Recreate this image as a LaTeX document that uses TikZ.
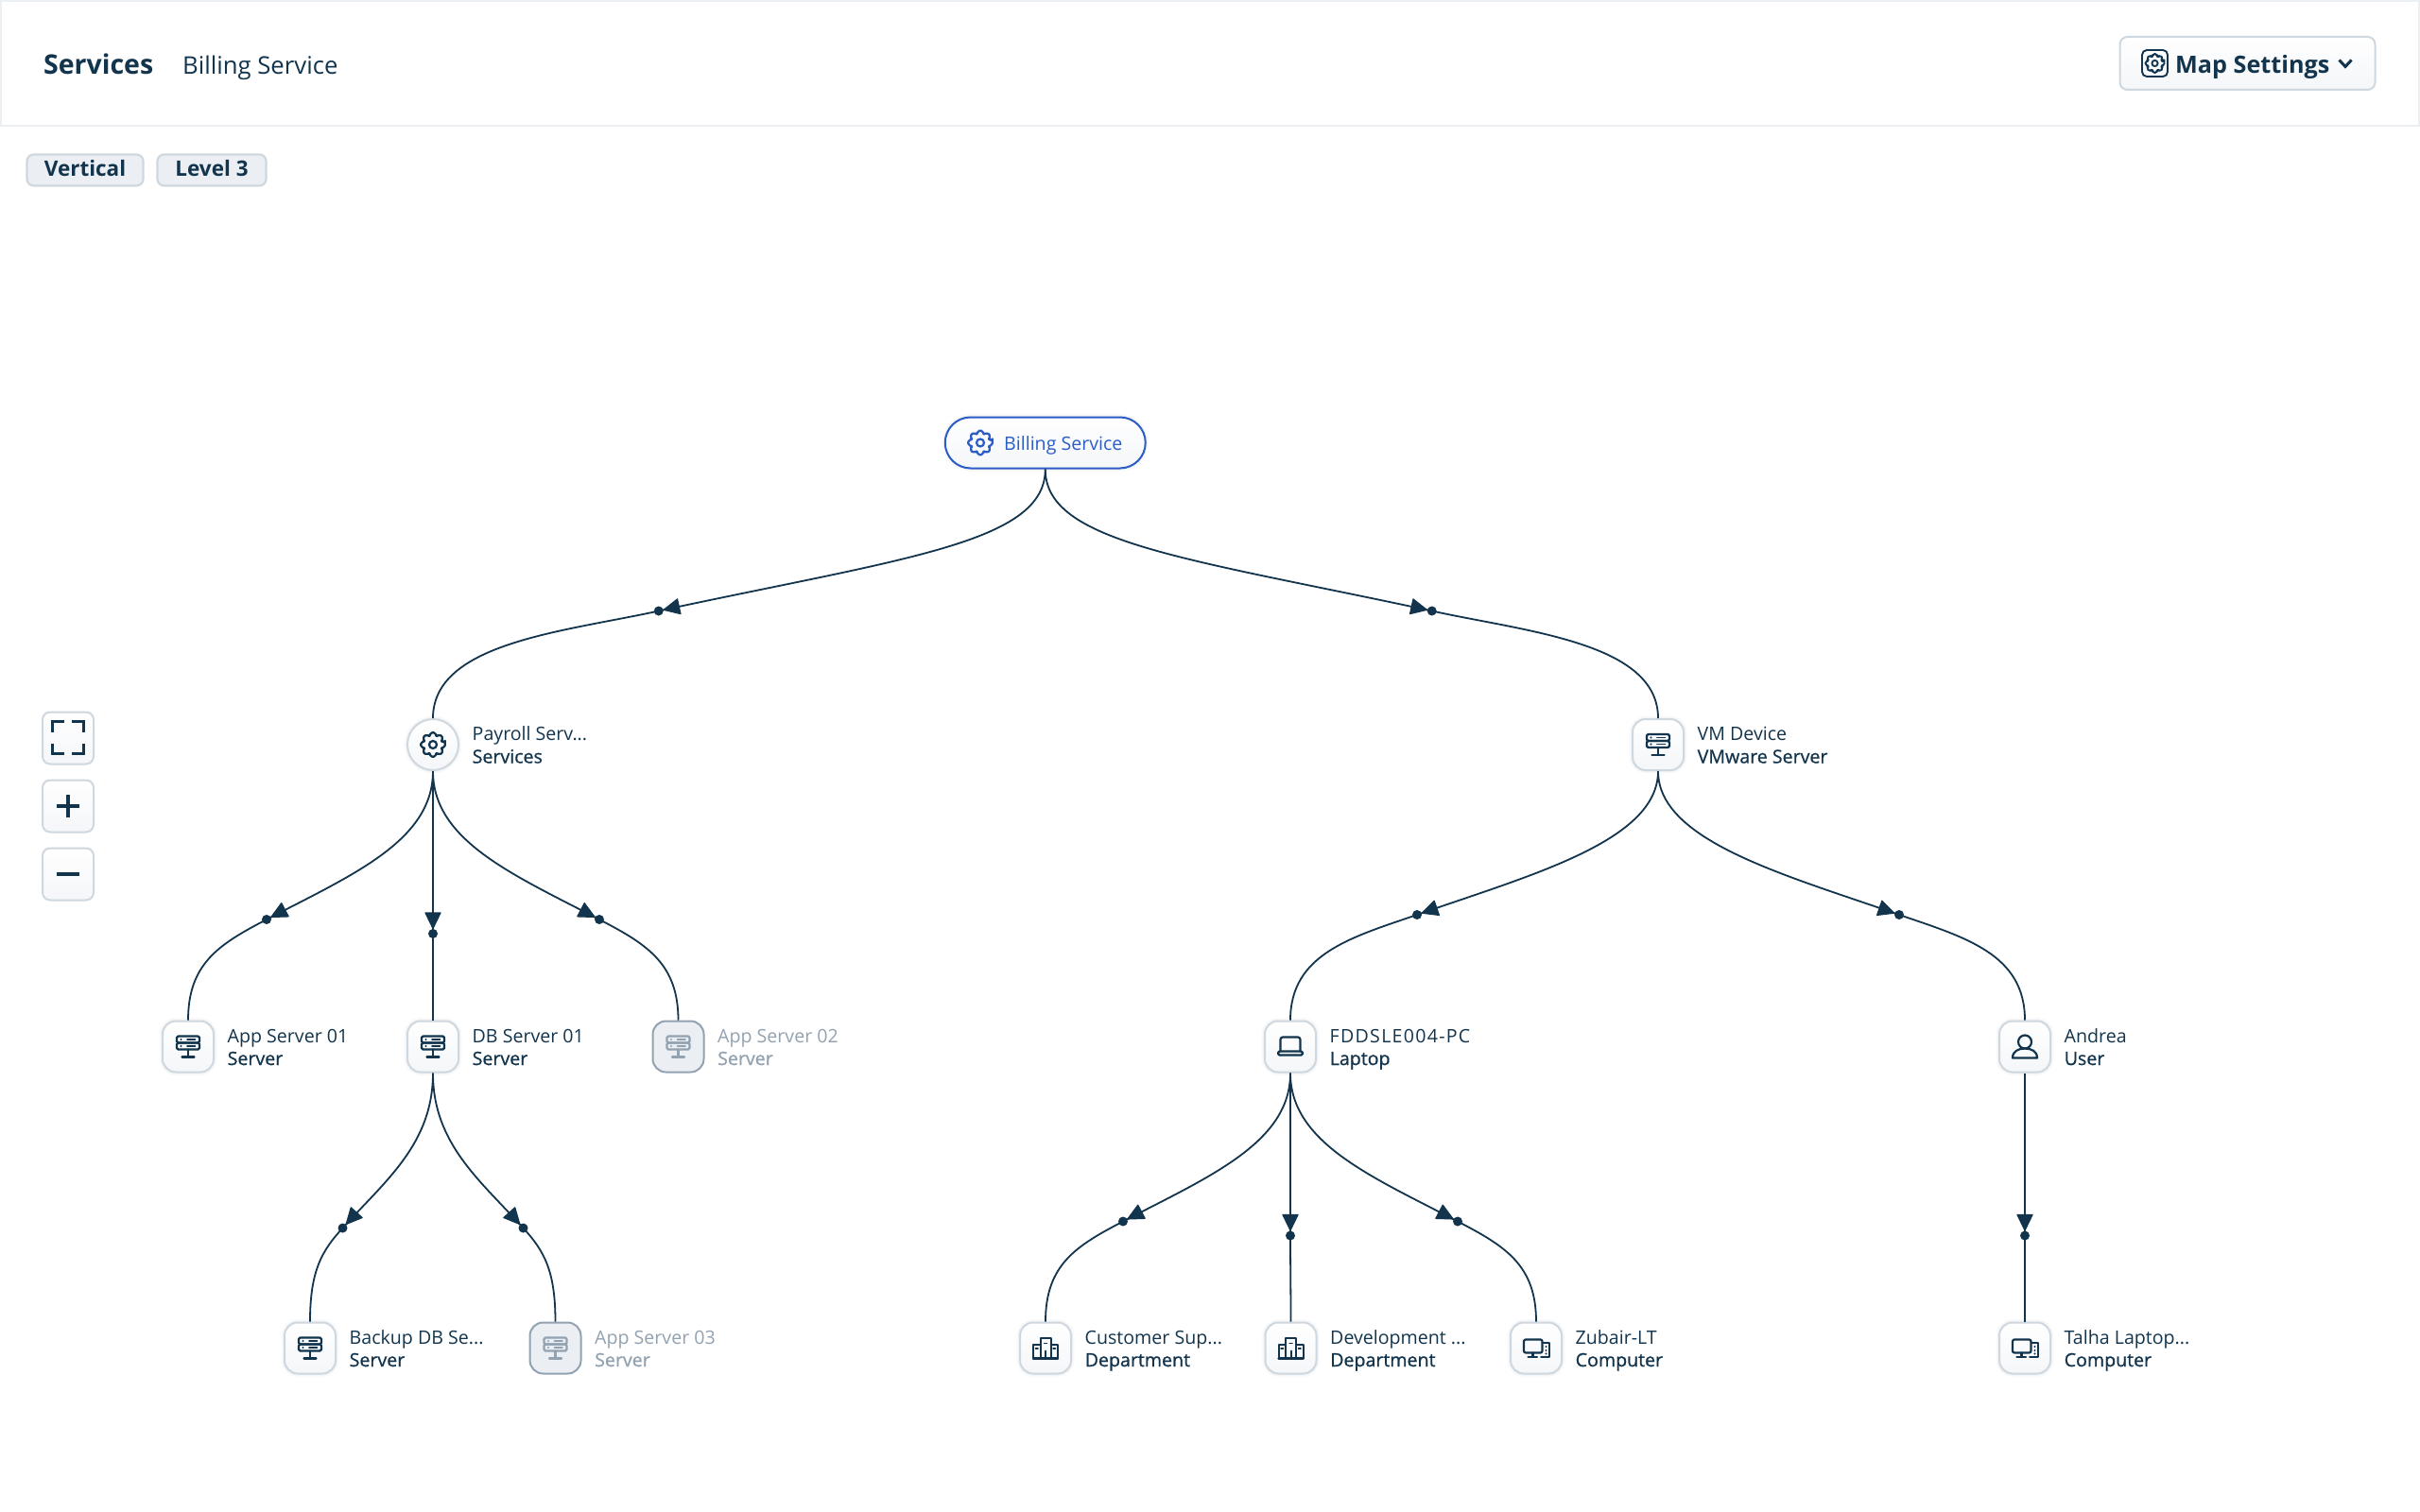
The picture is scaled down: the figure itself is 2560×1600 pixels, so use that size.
\documentclass[tikz,border=0pt]{standalone}
\usepackage{fontspec}
\usetikzlibrary{calc}
\setmainfont{Open Sans}
\newfontfamily\medf[FakeBold=0.8]{Open Sans}
\newfontfamily\widef[LetterSpace=6.5]{Open Sans}
\definecolor{ink}{HTML}{12344D}
\definecolor{smoke}{HTML}{EBEFF3}
\definecolor{edge}{HTML}{CFD7DF}
\definecolor{faded}{HTML}{92A2B1}
\definecolor{azure}{HTML}{2C5CC5}
\definecolor{panel}{HTML}{F4F6F9}
\newcommand\fs[1]{\fontsize{#1}{#1}\selectfont}
\tikzset{
  x=1pt,y=-1pt,
  glow/.style={preaction={draw=#1,line width=7pt,opacity=.10},preaction={draw=#1,line width=4pt,opacity=.18}},
  tilebox/.style={rectangle,draw=edge,line width=2pt,rounded corners=14pt,minimum width=54pt,minimum height=54pt,inner sep=0pt,top color=white,bottom color=panel,glow=edge},
  fadedbox/.style={rectangle,draw=faded,line width=2pt,rounded corners=14pt,minimum width=54pt,minimum height=54pt,inner sep=0pt,fill=smoke},
  roundbox/.style={circle,draw=edge,line width=2pt,minimum size=54pt,inner sep=0pt,top color=white,bottom color=panel,glow=edge},
  rootbox/.style={rectangle,draw=azure,line width=2pt,rounded corners=27pt,minimum width=212pt,minimum height=54pt,inner sep=0pt,top color=white,bottom color=panel,glow=edge},
  pill/.style={rectangle,draw=edge,fill=smoke,line width=2.2pt,rounded corners=7pt,inner sep=0pt,minimum height=33pt,text=ink,font=\bfseries\fs{22.5},text height=13.5pt,text depth=0pt},
  ctrlbtn/.style={rectangle,draw=edge,line width=2pt,rounded corners=8pt,minimum width=54pt,minimum height=55pt,inner sep=0pt,top color=white,bottom color=panel},
  txt/.style={anchor=base west,inner sep=0pt,text=ink},
  link/.style={draw=ink,line width=1.8pt},
  iconline/.style={line width=2.2pt,line join=round,line cap=round},
}
\newcommand\geargl{%
  \draw[rounded corners=1.6pt] (-11:13) \foreach \a in {0,45,...,315}{ -- (\a-11:13) -- (\a+11:13) -- (\a+17:10) -- (\a+28:10)} -- cycle;
  \draw (0,0) circle (4);}
\newcommand\servergl{%
  \draw[rounded corners=1.5pt] (-12,-11) rectangle (12,-4);
  \draw[rounded corners=1.5pt] (-12,-4) rectangle (12,3);
  \draw (0,3) -- (0,11);
  \draw (-6.5,11) -- (6.5,11);
  \fill (-7.5,-7.5) circle (1.2); \fill (-7.5,-.5) circle (1.2);
  \draw[line width=1.6pt] (-1,-7.5) -- (7.5,-7.5);
  \draw[line width=1.6pt] (-1,-.5) -- (7.5,-.5);}
\newcommand\laptopgl{%
  \draw[rounded corners=2.5pt] (-10.5,5) -- (-10.5,-10) -- (10.5,-10) -- (10.5,5);
  \draw[rounded corners=1.5pt] (-13,5) -- (13,5) -- (13,9) -- (-13,9) -- cycle;}
\newcommand\usergl{%
  \draw (0,-5) circle (7);
  \draw (-13,12) .. controls (-13,5) and (-7,2) .. (0,2) .. controls (7,2) and (13,5) .. (13,12) -- cycle;}
\newcommand\deptgl{%
  \draw[line width=2pt] (-5.5,11) -- (-5.5,-10.5) -- (5.5,-10.5) -- (5.5,11);
  \draw[line width=2pt] (-13,11) -- (-13,-3.5) -- (-5.5,-3.5);
  \draw[line width=2pt] (13,11) -- (13,-3.5) -- (5.5,-3.5);
  \draw[line width=2.4pt] (-13,11) -- (13,11);
  \draw[line width=2pt] (0,11) -- (0,3);
  \draw[line width=1.5pt] (-10.5,.5) -- (-8,.5);
  \draw[line width=1.5pt] (8,.5) -- (10.5,.5);
  \draw[line width=1.5pt] (-1.5,-5) -- (1.5,-5);}
\newcommand\compgl{%
  \draw[rounded corners=2pt] (-13,-9) rectangle (6.5,5);
  \draw (-3.5,5) -- (-3.5,9.5);
  \draw (-8.5,9.5) -- (1,9.5);
  \draw[line width=2pt] (7.5,-6) -- (13.5,-6) -- (13.5,9.5) -- (5,9.5);
  \fill (10.5,-1.5) circle (1.1); \fill (10.5,2.5) circle (1.1); \fill (10.5,6) circle (1.1);}
% name, x, y, box style, glyph, line 1, line 2, colour
\newcommand\graphnode[8]{%
  \node[#4] (#1) at (#2,#3) {};
  \begin{scope}[shift={(#1.center)},color=#8,iconline]#5\end{scope}
  \node[txt,text=#8,font=\fs{19.6}] (#1-a) at ($(#1.center)+(41.5,-4.5)$) {#6};
  \node[txt,text=#8,font=\medf\fs{19.6}] (#1-b) at ($(#1.center)+(41.5,19.5)$) {#7};}
% from, to, dot name, dot offset, ctl1, ctl2, ctl3, ctl4, angle
\newcommand\conn[9]{%
  \coordinate (#3) at ($(#1.south)+(#4)$);
  \draw[link] (#1.south) .. controls +(#5) and +(#6) .. (#3) .. controls +(#7) and +(#8) .. (#2.north);
  \fill[ink] (#3) circle (5);
  \fill[ink,line join=round,draw=ink,line width=1.2pt,shift={(#3)},rotate=#9] (-5.5,0) -- (-22,8) -- (-22,-8) -- cycle;}
\begin{document}
\begin{tikzpicture}
\useasboundingbox (0,0) rectangle (2560,1600);
\fill[white] (0,0) rectangle (2560,1600);
% header
\node[rectangle,draw=smoke,line width=2pt,minimum width=2558pt,minimum height=132pt,inner sep=0pt] (header) at (1280,67) {};
\node[txt,font=\bfseries\fs{28.5}] (title) at (46,78.5) {Services};
\node[txt,font=\fs{25.7}] (crumb) at (193,78.5) {Billing Service};
\node[pill,minimum width=123pt] (vert) at (90,180) {Vertical};
\node[pill,minimum width=115pt] (level) at (224,180) {Level 3};
% map settings
\node[rectangle,draw=edge,line width=2pt,rounded corners=8pt,minimum width=270pt,minimum height=56pt,inner sep=0pt,top color=white,bottom color=panel] (mapbtn) at (2377.5,67) {};
\begin{scope}[shift={(2279.5,67)},color=ink,line width=1.9pt,line join=round]
  \draw[rounded corners=5pt] (-13.5,-14) rectangle (13.5,14);
  \begin{scope}[scale=.78]\geargl\end{scope}
\end{scope}
\node[txt,font=\bfseries\fs{25.2}] (maptext) at (2301,78) {Map Settings};
\draw[ink,line width=3pt,line join=miter] (2474.5,63.5) -- (2481,70.5) -- (2487.5,63.5);
% controls
\node[ctrlbtn] (fit) at (72,781) {};
\node[ctrlbtn] (plus) at (72,853) {};
\node[ctrlbtn] (minus) at (72,925) {};
\begin{scope}[shift={(fit.center)},ink,line width=3.8pt]
  \draw (-16.5,-6) -- (-16.5,-17.5) -- (-4,-17.5);
  \draw (4,-17.5) -- (16.5,-17.5) -- (16.5,-6);
  \draw (-16.5,5.5) -- (-16.5,16.5) -- (-4,16.5);
  \draw (4,16.5) -- (16.5,16.5) -- (16.5,5.5);
\end{scope}
\draw[ink,line width=3.6pt] ($(plus.center)+(-12,0)$) -- ($(plus.center)+(12,0)$);
\draw[ink,line width=3.6pt] ($(plus.center)+(0,-12)$) -- ($(plus.center)+(0,12)$);
\draw[ink,line width=3.6pt] ($(minus.center)+(-12,0)$) -- ($(minus.center)+(12,0)$);
% root
\node[rootbox] (root) at (1105.75,468.5) {};
\begin{scope}[shift={(1037,468.5)},color=azure,iconline]\geargl\end{scope}
\node[txt,text=azure,font=\fs{19.6}] (rootlabel) at (1062,476) {Billing Service};
% graph nodes
\graphnode{payroll}{458}{788}{roundbox}{\geargl}{Payroll Serv...}{Services}{ink}
\graphnode{vm}{1754}{788}{tilebox}{\servergl}{VM Device}{VMware Server}{ink}
\graphnode{app1}{199}{1107.5}{tilebox}{\servergl}{App Server 01}{Server}{ink}
\graphnode{db1}{458}{1107.5}{tilebox}{\servergl}{DB Server 01}{Server}{ink}
\graphnode{app2}{717.5}{1107.5}{fadedbox}{\servergl}{App Server 02}{Server}{faded}
\graphnode{fdd}{1365}{1107.5}{tilebox}{\laptopgl}{\widef FDDSLE004-PC}{Laptop}{ink}
\graphnode{andrea}{2142}{1107.5}{tilebox}{\usergl}{Andrea}{User}{ink}
\graphnode{backup}{328}{1426.5}{tilebox}{\servergl}{Backup DB Se...}{Server}{ink}
\graphnode{app3}{587.5}{1426.5}{fadedbox}{\servergl}{App Server 03}{Server}{faded}
\graphnode{cust}{1106}{1426.5}{tilebox}{\deptgl}{Customer Sup...}{Department}{ink}
\graphnode{dev}{1365.5}{1426.5}{tilebox}{\deptgl}{Development ...}{Department}{ink}
\graphnode{zub}{1625}{1426.5}{tilebox}{\compgl}{Zubair-LT}{Computer}{ink}
\graphnode{talha}{2142}{1426.5}{tilebox}{\compgl}{Talha Laptop...}{Computer}{ink}
% connectors
\conn{root}{payroll}{d1}{-409,150}{0,78}{260,-56}{-100,22}{0,-80}{192.4}
\conn{root}{vm}{d2}{409,150}{0,78}{-260,-56}{100,22}{0,-80}{347.6}
\conn{payroll}{app1}{d3}{-176,157}{0,74}{90,-47}{-50,26}{0,-60}{207.7}
\conn{payroll}{db1}{d4}{0,172}{0,30}{0,-30}{0,30}{0,-30}{270}
\conn{payroll}{app2}{d5}{176,157}{0,74}{-90,-47}{50,26}{0,-60}{332.3}
\conn{vm}{fdd}{d6}{-255,152}{0,74}{120,-42}{-70,24}{0,-70}{199}
\conn{vm}{andrea}{d7}{255,152}{0,74}{-120,-42}{70,24}{0,-70}{341}
\conn{db1}{backup}{d8}{-95.5,164}{0,75}{45,-50}{-22,24}{0,-54}{228}
\conn{db1}{app3}{d9}{95.5,164}{0,75}{-45,-50}{22,24}{0,-54}{312}
\conn{fdd}{cust}{d10}{-177,157}{0,74}{90,-47}{-50,26}{0,-60}{207.7}
\conn{fdd}{dev}{d11}{0,172}{0,30}{0,-30}{0,30}{0,-30}{270}
\conn{fdd}{zub}{d12}{177,157}{0,74}{-90,-47}{50,26}{0,-60}{332.3}
\conn{andrea}{talha}{d13}{0,172}{0,30}{0,-30}{0,30}{0,-30}{270}
\end{tikzpicture}
\end{document}
